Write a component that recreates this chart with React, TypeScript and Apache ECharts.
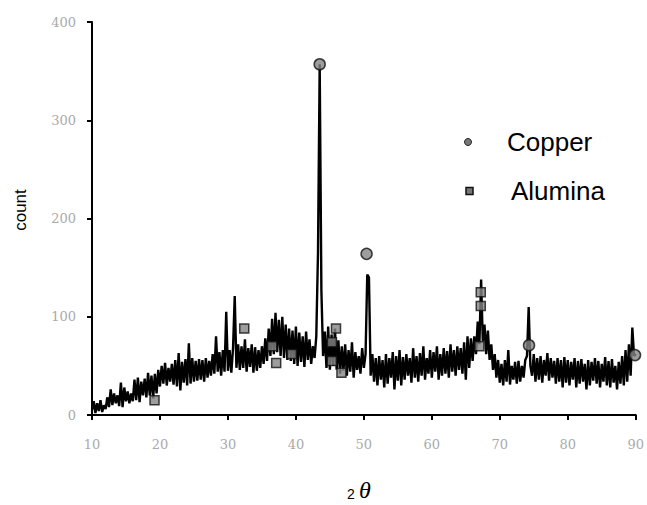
import React, { useEffect, useRef } from "react";
import * as echarts from "echarts";

const startAngle = 10;
const stepAngle = 0.25;
const counts: number[] = [
  5, 14, 2, 12, 4, 15, 3, 10,
  6, 18, 8, 26, 10, 22, 12, 20,
  9, 33, 8, 28, 14, 24, 12, 22,
  14, 36, 15, 38, 13, 34, 20, 37,
  18, 43, 20, 40, 17, 42, 22, 46,
  29, 50, 32, 53, 30, 48, 34, 52,
  31, 56, 29, 63, 25, 54, 33, 57,
  30, 73, 32, 58, 34, 55, 35, 57,
  36, 56, 34, 58, 38, 55, 40, 62,
  42, 80, 44, 64, 40, 66, 44, 105,
  45, 66, 43, 68, 121, 48, 72, 46,
  70, 48, 77, 44, 68, 49, 72, 43,
  69, 45, 66, 48, 70, 52, 78, 55,
  88, 60, 98, 62, 104, 64, 97, 60,
  100, 58, 92, 56, 88, 55, 86, 52,
  90, 50, 84, 54, 80, 49, 85, 56,
  77, 52, 70, 58, 80, 165, 357, 127,
  60, 85, 48, 90, 46, 82, 50, 88,
  46, 76, 42, 70, 45, 72, 40, 66,
  44, 74, 38, 64, 46, 60, 42, 68,
  48, 62, 143, 140, 40, 62, 34, 58,
  30, 60, 36, 56, 28, 62, 32, 58,
  38, 64, 26, 60, 35, 66, 30, 59,
  36, 62, 40, 58, 33, 68, 38, 60,
  34, 63, 40, 70, 36, 58, 42, 66,
  38, 64, 44, 70, 36, 62, 40, 68,
  42, 65, 38, 72, 44, 66, 40, 70,
  46, 68, 42, 74, 36, 80, 48, 78,
  55, 80, 62, 95, 72, 138, 75, 92,
  62, 86, 56, 72, 46, 62, 38, 56,
  33, 52, 30, 56, 34, 66, 31, 50,
  36, 54, 32, 55, 34, 50, 38, 56,
  60, 110, 50, 40, 62, 34, 58, 36,
  60, 33, 56, 40, 63, 35, 58, 38,
  55, 32, 58, 34, 56, 28, 59, 33,
  56, 30, 54, 36, 58, 28, 55, 32,
  57, 34, 52, 26, 56, 30, 54, 35,
  58, 32, 55, 28, 52, 34, 59, 30,
  55, 28, 57, 33, 50, 26, 54, 32,
  60, 30, 66, 34, 72, 40, 89, 60,
  62,
];

const copperAngles = [43.5, 50.4, 74.3, 89.9];
const copperCounts = [357, 164, 71, 61];

const aluminaAngles = [19.2, 32.4, 36.5, 37.1, 39.4, 45.3, 45.3, 45.9, 46.7, 67.0, 67.2, 67.2];
const aluminaCounts = [15, 88, 70, 53, 62, 74, 55, 88, 43, 70, 125, 111];

const xTicks = [10, 20, 30, 40, 50, 60, 70, 80, 90];
const yTicks = [0, 100, 200, 300, 400];

export default function App() {
  const ref = useRef<HTMLDivElement>(null);
  useEffect(() => {
    if (!ref.current) return;
    const chart = echarts.init(ref.current, undefined, { renderer: "svg" });
    const lineData = counts.map((c, i) => [startAngle + i * stepAngle, c]);
    const labelFont = "DejaVu Serif";
    chart.setOption({
      animation: false,
      backgroundColor: "#ffffff",
      grid: { left: 92, right: 8, top: 22, bottom: 90, containLabel: false },
      xAxis: {
        type: "value",
        min: xTicks[0],
        max: xTicks[xTicks.length - 1],
        interval: 10,
        axisLine: { show: true, onZero: false, lineStyle: { color: "#000", width: 2 } },
        axisTick: { show: true, length: 5, inside: false, lineStyle: { color: "#000", width: 2 } },
        axisLabel: { color: "#aaaaaa", fontFamily: labelFont, fontSize: 13, margin: 23 },
        splitLine: { show: false },
      },
      yAxis: {
        type: "value",
        min: yTicks[0],
        max: yTicks[yTicks.length - 1],
        interval: 100,
        axisLine: { show: true, lineStyle: { color: "#000", width: 2 } },
        axisTick: { show: true, length: 5, inside: false, lineStyle: { color: "#000", width: 2 } },
        axisLabel: { color: "#aaaaaa", fontFamily: labelFont, fontSize: 13, margin: 16 },
        splitLine: { show: false },
      },
      series: [
        {
          type: "line",
          data: lineData,
          showSymbol: false,
          lineStyle: { color: "#000", width: 2.4 },
          z: 2,
        },
        {
          name: "Copper",
          type: "scatter",
          data: copperAngles.map((a, i) => [a, copperCounts[i]]),
          symbol: "circle",
          symbolSize: 11,
          itemStyle: { color: "#858585", borderColor: "#111", borderWidth: 1.5 },
          z: 3,
        },
        {
          name: "Alumina",
          type: "scatter",
          data: aluminaAngles.map((a, i) => [a, aluminaCounts[i]]),
          symbol: "rect",
          symbolSize: 9,
          itemStyle: { color: "#858585", borderColor: "#111", borderWidth: 1.5 },
          z: 3,
        },
      ],
      graphic: [
        {
          type: "circle",
          shape: { cx: 468, cy: 142, r: 3.5 },
          style: { fill: "#777", stroke: "#222", lineWidth: 1 },
        },
        {
          type: "text",
          x: 507,
          y: 142,
          style: { text: "Copper", fontFamily: "Liberation Sans", fontSize: 26, fill: "#000", verticalAlign: "middle" },
        },
        {
          type: "rect",
          shape: { x: 466, y: 187.5, width: 7, height: 7 },
          style: { fill: "#777", stroke: "#111", lineWidth: 1.5 },
        },
        {
          type: "text",
          x: 511,
          y: 191,
          style: { text: "Alumina", fontFamily: "Liberation Sans", fontSize: 26, fill: "#000", verticalAlign: "middle" },
        },
        {
          type: "text",
          x: 20,
          y: 210,
          rotation: Math.PI / 2,
          style: { text: "count", fontFamily: "Liberation Sans", fontSize: 17, fill: "#000", align: "center", verticalAlign: "middle" },
        },
        {
          type: "text",
          x: 351,
          y: 494,
          style: { text: "2", fontFamily: "Liberation Sans", fontSize: 14, fill: "#000", align: "center", verticalAlign: "middle" },
        },
        {
          type: "text",
          x: 365,
          y: 490,
          style: { text: "θ", fontFamily: "Liberation Serif", fontStyle: "italic", fontSize: 24, fill: "#000", align: "center", verticalAlign: "middle" },
        },
      ],
    });
    return () => chart.dispose();
  }, []);
  return <div ref={ref} style={{ width: 647, height: 505, position: "absolute", left: 0, top: 0 }} />;
}
